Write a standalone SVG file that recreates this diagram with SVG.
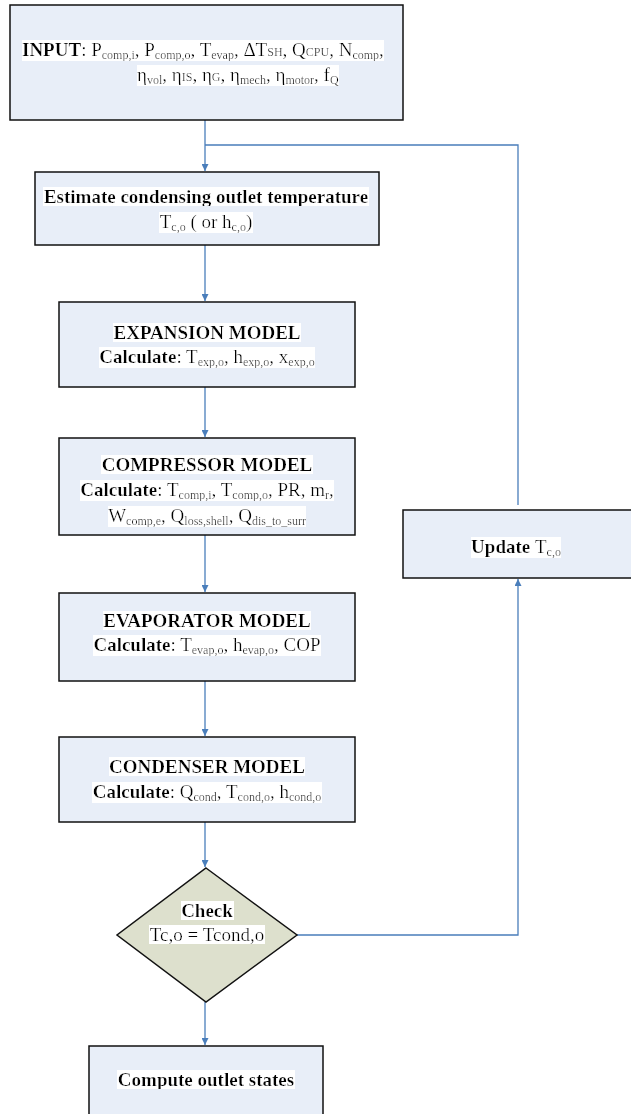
<svg xmlns="http://www.w3.org/2000/svg" width="631" height="1114" viewBox="0 0 631 1114">
  <defs>
    <marker id="arr" viewBox="0 0 10 10" refX="10" refY="5" markerWidth="7" markerHeight="7" orient="auto" markerUnits="userSpaceOnUse">
      <path d="M0,0 L10,5 L0,10 z" fill="#4a7ebb"/>
    </marker>
    <!-- white highlight behind each text line -->
    <filter id="hl" x="0" y="0.06" width="1" height="0.88">
      <feFlood flood-color="#ffffff"/>
      <feComposite in="SourceGraphic"/>
    </filter>
    <style>
      .box { fill: #e8eef8; stroke: #111; stroke-width: 1.5; }
      .dec { fill: #dde0cd; stroke: #111; stroke-width: 1.5; }
      .edge { fill: none; stroke: #4a7ebb; stroke-width: 1.3; }
      text { font-family: "Liberation Serif", "Times New Roman", serif; font-size: 19px; fill: #000; filter: url(#hl); }
      .c { text-anchor: middle; }
      .b { font-weight: bold; }
      .s { font-size: 12px; }
    </style>
  </defs>
  <rect width="631" height="1114" fill="#fff"/>

  <!-- connectors -->
  <g id="connectors">
    <path class="edge" d="M205,120 V171" marker-end="url(#arr)"/>
    <path class="edge" d="M518,505 V145 H205"/>
    <path class="edge" d="M205,245 V301" marker-end="url(#arr)"/>
    <path class="edge" d="M205,387 V437" marker-end="url(#arr)"/>
    <path class="edge" d="M205,535 V592" marker-end="url(#arr)"/>
    <path class="edge" d="M205,681 V736" marker-end="url(#arr)"/>
    <path class="edge" d="M205,822 V867" marker-end="url(#arr)"/>
    <path class="edge" d="M205,1002 V1045" marker-end="url(#arr)"/>
    <path class="edge" d="M297,935 H518 V579" marker-end="url(#arr)"/>
  </g>

  <g id="input">
    <rect class="box" x="10" y="5" width="393" height="115"/>
    <text x="22" y="56"><tspan class="b">INPUT</tspan>: P<tspan class="s" dy="3">comp,i</tspan><tspan dy="-3">, P</tspan><tspan class="s" dy="3">comp,o</tspan><tspan dy="-3">, T</tspan><tspan class="s" dy="3">evap</tspan><tspan dy="-3">, ΔT</tspan><tspan class="s">SH</tspan><tspan>, Q</tspan><tspan class="s">CPU</tspan><tspan>, N</tspan><tspan class="s" dy="3">comp</tspan><tspan dy="-3">,</tspan></text>
    <text x="137" y="81">η<tspan class="s" dy="3">vol</tspan><tspan dy="-3">, η</tspan><tspan class="s">IS</tspan><tspan>, η</tspan><tspan class="s">G</tspan><tspan>, η</tspan><tspan class="s" dy="3">mech</tspan><tspan dy="-3">, η</tspan><tspan class="s" dy="3">motor</tspan><tspan dy="-3">, f</tspan><tspan class="s" dy="3">Q</tspan></text>
  </g>

  <g id="estimate">
    <rect class="box" x="35" y="172" width="344" height="73"/>
    <text class="c b" x="206" y="203">Estimate condensing outlet temperature</text>
    <text class="c" x="206" y="228">T<tspan class="s" dy="3">c,o</tspan><tspan dy="-3"> ( or h</tspan><tspan class="s" dy="3">c,o</tspan><tspan dy="-3">)</tspan></text>
  </g>

  <g id="expansion">
    <rect class="box" x="59" y="302" width="296" height="85"/>
    <text class="c b" x="207" y="339">EXPANSION MODEL</text>
    <text class="c" x="207" y="363"><tspan class="b">Calculate</tspan>: T<tspan class="s" dy="3">exp,o</tspan><tspan dy="-3">, h</tspan><tspan class="s" dy="3">exp,o</tspan><tspan dy="-3">, x</tspan><tspan class="s" dy="3">exp,o</tspan></text>
  </g>

  <g id="compressor">
    <rect class="box" x="59" y="438" width="296" height="97"/>
    <text class="c b" x="207" y="471">COMPRESSOR MODEL</text>
    <text class="c" x="207" y="496"><tspan class="b">Calculate</tspan>: T<tspan class="s" dy="3">comp,i</tspan><tspan dy="-3">, T</tspan><tspan class="s" dy="3">comp,o</tspan><tspan dy="-3">, PR, m</tspan><tspan class="s" dy="3">r</tspan><tspan dy="-3">,</tspan></text>
    <text class="c" x="207" y="522">W<tspan class="s" dy="3">comp,e</tspan><tspan dy="-3">, Q</tspan><tspan class="s" dy="3">loss,shell</tspan><tspan dy="-3">, Q</tspan><tspan class="s" dy="3">dis_to_surr</tspan></text>
  </g>

  <g id="evaporator">
    <rect class="box" x="59" y="593" width="296" height="88"/>
    <text class="c b" x="207" y="627">EVAPORATOR MODEL</text>
    <text class="c" x="207" y="651"><tspan class="b">Calculate</tspan>: T<tspan class="s" dy="3">evap,o</tspan><tspan dy="-3">, h</tspan><tspan class="s" dy="3">evap,o</tspan><tspan dy="-3">, COP</tspan></text>
  </g>

  <g id="condenser">
    <rect class="box" x="59" y="737" width="296" height="85"/>
    <text class="c b" x="207" y="773">CONDENSER MODEL</text>
    <text class="c" x="207" y="798"><tspan class="b">Calculate</tspan>: Q<tspan class="s" dy="3">cond</tspan><tspan dy="-3">, T</tspan><tspan class="s" dy="3">cond,o</tspan><tspan dy="-3">, h</tspan><tspan class="s" dy="3">cond,o</tspan></text>
  </g>

  <g id="check">
    <polygon class="dec" points="206,868 297,935 206,1002 117,935"/>
    <text class="c b" x="207" y="917">Check</text>
    <text class="c" x="207" y="941">Tc,o = Tcond,o</text>
  </g>

  <g id="update">
    <rect class="box" x="403" y="510" width="230" height="68"/>
    <text class="c b" x="516" y="553">Update <tspan font-weight="normal">T</tspan><tspan class="s" font-weight="normal" dy="3">c,o</tspan></text>
  </g>

  <g id="compute">
    <rect class="box" x="89" y="1046" width="234" height="72"/>
    <text class="c b" x="206" y="1086">Compute outlet states</text>
  </g>
</svg>
